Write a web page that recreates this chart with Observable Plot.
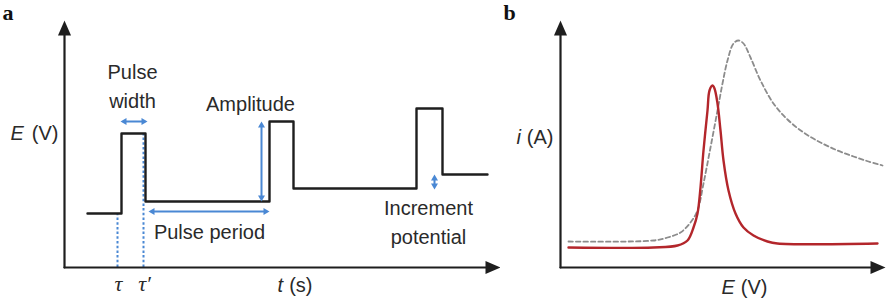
<!DOCTYPE html>
<html>
<head>
<meta charset="utf-8">
<script src="https://cdn.jsdelivr.net/npm/d3@7"></script>
<script src="https://cdn.jsdelivr.net/npm/@observablehq/plot@0.6"></script>
<style>
  html, body { margin: 0; padding: 0; background: #fff; }
  #wrap { display: flex; width: 886px; height: 302px; }
  #wrap svg { display: block; overflow: visible; }
</style>
</head>
<body>
<div id="wrap"></div>
<script>
// ---------- Panel a: pulse waveform (t, E) ----------
const tWave = [23, 57, 81, 205, 229, 352, 378, 423];
const eWave = [54, 134, 66, 146, 79, 159, 93, 93];
const tMax = 436, eMax = 247;

// double-headed blue annotation spans
const hSpanT1 = [56, 84], hSpanT2 = [83, 205], hSpanE = [146, 56];          // pulse width, pulse period
const vSpanT = [197, 370], vSpanE1 = [66, 78], vSpanE2 = [146, 93];         // amplitude, increment
// dotted time markers
const markT = [53, 79], markE = [54, 134], markLabels = ["τ", "τ′"];
// annotation labels
const annText = ["Pulse\nwidth", "Amplitude", "Pulse period", "Increment\npotential"];
const annT = [68, 186, 145, 364];
const annE = [183, 166, 38, 47];

// ---------- Panel b: voltammograms (E, i) ----------
const ePulse = [8, 93, 117, 127, 133, 137, 140, 143, 147, 149, 152, 154, 157, 160, 163, 168, 175, 183, 193, 207, 217, 317];
const iPulse = [20, 20, 22, 27, 40, 54, 80, 117, 157, 177, 182, 179, 164, 137, 107, 77, 54, 40, 32, 26, 24, 24];
const eSweep = [8, 93, 107, 120, 130, 137, 143, 150, 157, 162, 167, 173, 178, 183, 190, 200, 213, 227, 243, 260, 277, 293, 308, 322];
const iSweep = [26, 27, 30, 35, 45, 57, 84, 120, 157, 184, 207, 224, 227, 224, 210, 187, 164, 148, 135, 125, 117, 111, 106, 102];
const eMaxB = 325;

const FONT = "'Liberation Sans', Arial, Helvetica, sans-serif";
const SERIF = "'Liberation Serif', 'Times New Roman', serif";
const INK = "#1e1e1e";
const TXT = "#2a2a2a";
const BLUE = "#4a88d4";
const FS = 20;

function head(dir, L, W) {
  return {
    draw(ctx) {
      const h = W / 2;
      if (dir === "up")    { ctx.moveTo(0, 0); ctx.lineTo(-h, L); ctx.lineTo(h, L); }
      if (dir === "down")  { ctx.moveTo(0, 0); ctx.lineTo(-h, -L); ctx.lineTo(h, -L); }
      if (dir === "right") { ctx.moveTo(0, 0); ctx.lineTo(-L, -h); ctx.lineTo(-L, h); }
      if (dir === "left")  { ctx.moveTo(0, 0); ctx.lineTo(L, -h); ctx.lineTo(L, h); }
      ctx.closePath();
    }
  };
}

const waveData = tWave.map((t, i) => ({t, e: eWave[i]}));
const hSpans = hSpanT1.map((t1, i) => ({t1, t2: hSpanT2[i], e: hSpanE[i]}));
const vSpans = vSpanT.map((t, i) => ({t, e1: vSpanE1[i], e2: vSpanE2[i]}));
const marks = markT.map((t, i) => ({t, e: markE[i], label: markLabels[i]}));
const anns = annText.map((text, i) => ({text, t: annT[i], e: annE[i]}));

function axisMarks(xMax, yMax) {
  return [
    Plot.arrow([{x1: 0, y1: 0, x2: 0, y2: yMax}], {x1: "x1", y1: "y1", x2: "x2", y2: "y2", stroke: INK, strokeWidth: 2.2, headLength: 0, insetEnd: 8}),
    Plot.arrow([{x1: 0, y1: 0, x2: xMax, y2: 0}], {x1: "x1", y1: "y1", x2: "x2", y2: "y2", stroke: INK, strokeWidth: 2.2, headLength: 0, insetEnd: 8}),
    Plot.dot([{x: 0, y: yMax}], {x: "x", y: "y", symbol: head("up", 15, 13), fill: INK, stroke: "none"}),
    Plot.dot([{x: xMax, y: 0}], {x: "x", y: "y", symbol: head("right", 15, 13), fill: INK, stroke: "none"})
  ];
}

const plotA = Plot.plot({
  width: 500, height: 302,
  marginLeft: 64, marginRight: 0, marginTop: 20, marginBottom: 35,
  x: {domain: [0, tMax], axis: null},
  y: {domain: [0, eMax], axis: null},
  style: {background: "white", overflow: "visible"},
  marks: [
    Plot.ruleX(marks, {x: "t", y1: 0, y2: "e", stroke: BLUE, strokeWidth: 2, strokeDasharray: "2.5,2.2"}),
    ...axisMarks(tMax, eMax),
    Plot.line(waveData, {x: "t", y: "e", curve: "step-after", stroke: INK, strokeWidth: 2.4}),
    Plot.arrow(hSpans, {x1: "t1", x2: "t2", y1: "e", y2: "e", stroke: BLUE, strokeWidth: 2, headLength: 0, insetStart: 3, insetEnd: 3}),
    Plot.dot(hSpans, {x: "t1", y: "e", symbol: head("left", 6, 7), fill: BLUE, stroke: "none"}),
    Plot.dot(hSpans, {x: "t2", y: "e", symbol: head("right", 6, 7), fill: BLUE, stroke: "none"}),
    Plot.arrow(vSpans, {x1: "t", x2: "t", y1: "e1", y2: "e2", stroke: BLUE, strokeWidth: 2, headLength: 0, insetStart: 3, insetEnd: 3}),
    Plot.dot(vSpans, {x: "t", y: "e2", symbol: head("up", 6, 7), fill: BLUE, stroke: "none"}),
    Plot.dot(vSpans, {x: "t", y: "e1", symbol: head("down", 6, 7), fill: BLUE, stroke: "none"}),
    Plot.text(anns, {x: "t", y: "e", text: "text", fontSize: FS, fontFamily: FONT, fill: TXT, lineHeight: 1.42}),
    Plot.text(marks, {x: "t", y: -16, text: "label", fontSize: 22, fontFamily: SERIF, fontStyle: "italic", fill: TXT, dx: 1}),
    Plot.text(["E"], {x: -54, y: 134, text: d => d, textAnchor: "start", fontSize: FS, fontFamily: FONT, fontStyle: "italic", fill: TXT}),
    Plot.text(["(V)"], {x: -6, y: 134, text: d => d, textAnchor: "end", fontSize: FS, fontFamily: FONT, fill: TXT}),
    Plot.text(["t"], {x: 213, y: -18, text: d => d, textAnchor: "start", fontSize: FS, fontFamily: FONT, fontStyle: "italic", fill: TXT}),
    Plot.text(["(s)"], {x: 248, y: -18, text: d => d, textAnchor: "end", fontSize: FS, fontFamily: FONT, fill: TXT}),
    Plot.text(["a"], {frameAnchor: "top-left", text: d => d, textAnchor: "start", lineAnchor: "top", dx: -62, dy: -16, fontSize: 22, fontWeight: "bold", fontFamily: SERIF, fill: "#111"})
  ]
});

const pulseData = ePulse.map((e, k) => ({e, i: iPulse[k]}));
const sweepData = eSweep.map((e, k) => ({e, i: iSweep[k]}));

const plotB = Plot.plot({
  width: 386, height: 302,
  marginLeft: 60, marginRight: 1, marginTop: 20, marginBottom: 35,
  x: {domain: [0, eMaxB], axis: null},
  y: {domain: [0, eMax], axis: null},
  style: {background: "white", overflow: "visible"},
  marks: [
    ...axisMarks(eMaxB, eMax),
    Plot.line(sweepData, {x: "e", y: "i", curve: "catmull-rom", stroke: "#8c8c8c", strokeWidth: 1.8, strokeDasharray: "4.5,3"}),
    Plot.line(pulseData, {x: "e", y: "i", curve: "catmull-rom", stroke: "#b3262b", strokeWidth: 2.4}),
    Plot.text(["i"], {x: -44, y: 130, text: d => d, textAnchor: "start", fontSize: FS, fontFamily: FONT, fontStyle: "italic", fill: TXT}),
    Plot.text(["(A)"], {x: -7, y: 130, text: d => d, textAnchor: "end", fontSize: FS, fontFamily: FONT, fill: TXT}),
    Plot.text(["E"], {x: 161, y: -20, text: d => d, textAnchor: "start", fontSize: FS, fontFamily: FONT, fontStyle: "italic", fill: TXT}),
    Plot.text(["(V)"], {x: 207, y: -20, text: d => d, textAnchor: "end", fontSize: FS, fontFamily: FONT, fill: TXT}),
    Plot.text(["b"], {frameAnchor: "top-left", text: d => d, textAnchor: "start", lineAnchor: "top", dx: -57, dy: -16, fontSize: 22, fontWeight: "bold", fontFamily: SERIF, fill: "#111"})
  ]
});

const wrap = document.getElementById("wrap");
wrap.appendChild(plotA);
wrap.appendChild(plotB);
</script>
</body>
</html>
